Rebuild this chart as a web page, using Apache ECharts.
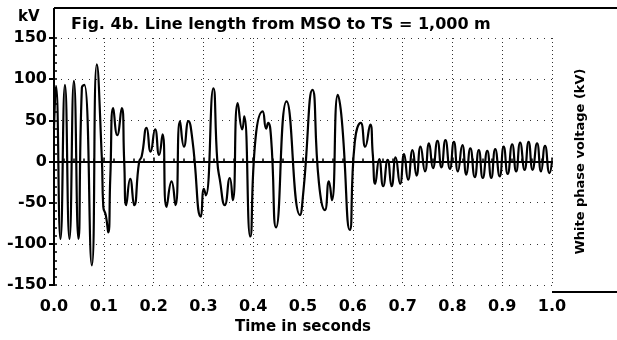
<!DOCTYPE html>
<html><head><meta charset="utf-8">
<script src="https://cdn.jsdelivr.net/npm/echarts@6/dist/echarts.min.js"></script>
<style>html,body{margin:0;padding:0;background:#fff}#c{width:617px;height:340px}</style>
</head><body><div id="c"></div>
<script>
// Time (s) of the read-off turning points of the trace
const times = [
  0.000, 0.004, 0.013, 0.022, 0.031, 0.040, 0.049, 0.056, 0.061, 0.076,
  0.086, 0.096, 0.099, 0.104, 0.109, 0.113, 0.119, 0.127, 0.136, 0.141,
  0.145, 0.153, 0.161, 0.171, 0.176, 0.186, 0.194, 0.203, 0.211, 0.218,
  0.226, 0.236, 0.244, 0.253, 0.261, 0.270, 0.278, 0.295, 0.301, 0.305,
  0.320, 0.328, 0.333, 0.343, 0.353, 0.359, 0.369, 0.378, 0.382, 0.394,
  0.405, 0.419, 0.426, 0.430, 0.436, 0.446, 0.467, 0.494, 0.501, 0.519,
  0.532, 0.544, 0.552, 0.558, 0.570, 0.578, 0.594, 0.604, 0.616, 0.625,
  0.635, 0.640,
  0.645, 0.653, 0.661, 0.670, 0.678, 0.686, 0.695, 0.703, 0.711, 0.720,
  0.728, 0.736, 0.745, 0.753, 0.761, 0.770, 0.778, 0.786, 0.795, 0.803,
  0.811, 0.820, 0.828, 0.836, 0.845, 0.853, 0.861, 0.870, 0.878, 0.886,
  0.895, 0.903, 0.911, 0.920, 0.928, 0.936, 0.945, 0.953, 0.961, 0.970,
  0.978, 0.986, 0.995, 1.000
];
// White phase voltage (kV) at those times
const kilovolts = [
  40, 92, -94, 93, -94, 98, -94, 90, 93, -126,
  118, 5, -55, -65, -86, -20, 65, 32, 65, 0,
  -53, -21, -53, 0, 6, 41, 12, 39, 8, 33,
  -55, -24, -53, 49, 18, 49, 26, -67, -33, -41,
  89, 0, -22, -53, -20, -47, 71, 39, 55, -91,
  30, 61, 40, 47, 28, -80, 73, -65, -35, 87,
  -26, -59, -24, -47, 81, 50, -83, 24, 47, 18,
  45, 10,
  -27, 3, -30, 2, -30, 5, -27, 9, -22, 14,
  -17, 18, -12, 22, -8, 25, -7, 26, -9, 24,
  -12, 20, -16, 16, -19, 14, -20, 13, -20, 15,
  -18, 18, -15, 21, -12, 23, -10, 24, -10, 22,
  -12, 19, -14, 0
];
const xTickLabels = ['0.0','0.1','0.2','0.3','0.4','0.5','0.6','0.7','0.8','0.9','1.0'];
const yTickLabels = ['-150','-100','-50','0','50','100','150'];

const FONT = 'DejaVu Sans';
const points = times.map((t, i) => [t, kilovolts[i]]);

const chart = echarts.init(document.getElementById('c'), null, {renderer: 'canvas'});
const axisLineStyle = {color: '#000', width: 2};
chart.setOption({
  animation: false,
  backgroundColor: '#fff',
  title: {
    text: 'Fig. 4b. Line length from MSO to TS = 1,000 m',
    left: 66, top: 12,
    textStyle: {fontFamily: FONT, fontWeight: 'bold', fontSize: 16, color: '#000'}
  },
  grid: {left: 54, right: 65, top: 38, bottom: 48},
  xAxis: [{
    type: 'value', min: 0, max: 1, interval: 0.1, position: 'bottom',
    axisLine: {show: true, lineStyle: axisLineStyle},
    axisTick: {show: true, inside: true, length: 4, lineStyle: {color: '#000', width: 1.5}},
    minorTick: {show: true, splitNumber: 5, length: 3, lineStyle: {color: '#000', width: 1.5}},
    axisLabel: {
      margin: 14, color: '#000', fontFamily: FONT, fontWeight: 'bold', fontSize: 16,
      formatter: v => xTickLabels[Math.round(v * 10)]
    },
    splitLine: {show: true, lineStyle: {color: '#333', width: 1, type: [1, 3]}},
    name: 'Time in seconds', nameLocation: 'middle', nameGap: 31,
    nameTextStyle: {fontFamily: FONT, fontWeight: 'bold', fontSize: 15, color: '#000'}
  }, {
    type: 'value', min: 0, max: 1, position: 'top',
    axisLine: {show: true, lineStyle: axisLineStyle},
    axisTick: {show: false}, axisLabel: {show: false}, splitLine: {show: false}
  }],
  yAxis: [{
    type: 'value', min: -150, max: 150, interval: 50, position: 'left',
    axisLine: {show: true, lineStyle: axisLineStyle},
    axisTick: {show: true, inside: false, length: 5, lineStyle: {color: '#000', width: 2}},
    axisLabel: {
      margin: 7, color: '#000', fontFamily: FONT, fontWeight: 'bold', fontSize: 16,
      formatter: v => yTickLabels[Math.round((v + 150) / 50)]
    },
    splitLine: {show: true, lineStyle: {color: '#333', width: 1, type: [1, 6]}}
  }, {
    type: 'value', min: -150, max: 150, interval: 50, position: 'right',
    axisLine: {show: true, lineStyle: axisLineStyle},
    axisTick: {show: false}, axisLabel: {show: false}, splitLine: {show: false},
    name: 'White phase voltage (kV)', nameLocation: 'middle', nameRotate: 90, nameGap: 22,
    nameTextStyle: {fontFamily: FONT, fontWeight: 'bold', fontSize: 13, color: '#000'}
  }, {
    type: 'value', min: -150, max: 150, interval: 10, position: 'left',
    axisLine: {show: false},
    axisTick: {show: true, inside: true, length: 3, lineStyle: {color: '#000', width: 1.5}},
    axisLabel: {show: false}, splitLine: {show: false}
  }],
  graphic: [
    {type: 'line', shape: {x1: 54, y1: 8, x2: 617, y2: 8}, style: {stroke: '#000', lineWidth: 2}},
    {type: 'line', shape: {x1: 54, y1: 8, x2: 54, y2: 38}, style: {stroke: '#000', lineWidth: 2}},
    {type: 'line', shape: {x1: 552, y1: 292, x2: 617, y2: 292}, style: {stroke: '#000', lineWidth: 2}},
    {type: 'text', left: 18, top: 10, style: {text: 'kV', fill: '#000', font: 'bold 15px "DejaVu Sans"'}}
  ],
  series: [{
    type: 'line', xAxisIndex: 0, yAxisIndex: 0,
    data: points, showSymbol: false, smooth: 0.55,
    lineStyle: {color: '#000', width: 2.2},
    markLine: {
      silent: true, symbol: 'none', label: {show: false},
      lineStyle: {color: '#000', width: 1.5, type: 'solid'},
      data: [{yAxis: 0}]
    }
  }]
});
</script>
</body></html>
